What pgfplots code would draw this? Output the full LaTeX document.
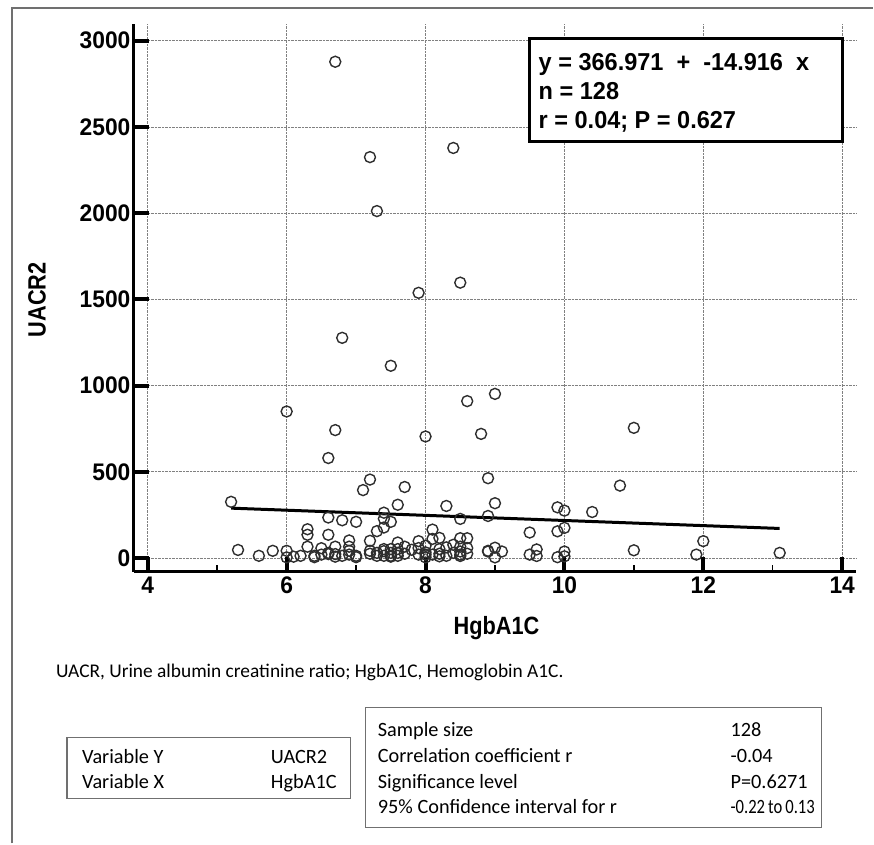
\documentclass[border=0pt]{standalone}
\usepackage{fontspec}
\setmainfont{Liberation Sans}
\newfontfamily\chartfont[FakeStretch=0.95]{Liberation Sans}
\newfontfamily\labelfont[FakeStretch=0.87]{Liberation Sans}
\newfontfamily\boxfont[FakeStretch=0.96]{Liberation Sans}
\newfontfamily\cali{Carlito}
\newfontfamily\calinarrow[FakeStretch=0.82]{Carlito}
\usepackage{pgfplots}
\pgfplotsset{compat=1.18}
\definecolor{markgray}{HTML}{2E2E2E}
\definecolor{framegray}{HTML}{707070}

\begin{document}
\begin{tikzpicture}[x=1pt,y=1pt]
% page size = reference pixels (1px = 1pt)
\path (0,0) rectangle (874,844);
\draw[framegray, line width=1.5pt] (12,0) -- (12,836) -- (874,836);

\begin{axis}[
  at={(134pt,272pt)}, anchor=south west,
  scale only axis, width=722.8pt, height=548pt,
  xmin=3.8, xmax=14.2, ymin=-78, ymax=3097,
  axis x line*=bottom, axis y line*=left,
  axis line style={-, line width=3pt},
  xtick={4,6,...,14}, minor xtick={5,7,...,13},
  ytick={0,500,...,3000},
  tick align=inside, major tick length=15pt, minor tick length=7pt,
  every major tick/.append style={line width=4pt, black},
  every minor tick/.append style={line width=1.5pt, black},
  grid=major, grid style={densely dotted, gray, line width=0.8pt},
  xticklabel={\pgfmathprintnumber[assume math mode=true]{\tick}},
  yticklabel={\pgfmathprintnumber[assume math mode=true, set thousands separator={}]{\tick}},
  typeset ticklabels with strut,
  tick label style={font=\chartfont\bfseries\fontsize{24}{24}\selectfont},
  xticklabel style={yshift=-2pt},
  xlabel={HgbA1C}, ylabel={UACR2},
  label style={font=\labelfont\bfseries\fontsize{25}{25}\selectfont},
  xlabel style={at={(axis description cs:0.502,-0.104)}, anchor=center},
  ylabel style={at={(axis description cs:-0.134,0.496)}, anchor=center},
]
\addplot[only marks, mark=o, mark size=5.5pt, mark options={line width=1.4pt, draw=markgray}] coordinates {
(6.7,2878) (7.2,2325) (8.4,2378) (7.3,2012) (8.5,1597) (7.9,1538) (6.8,1277) (7.5,1115)
(9.0,952) (8.6,910) (6.0,850) (6.7,742) (8.0,705) (8.8,720) (11.0,755) (6.6,580)
(8.9,463) (7.2,455) (10.8,420) (7.7,412) (7.1,394) (5.2,326) (9.0,318) (7.6,309)
(8.3,302) (9.9,294) (10.0,275) (10.4,267) (7.4,263) (8.9,244) (6.6,235) (8.5,227)
(7.4,228) (6.8,219) (7.0,210) (7.5,210) (7.4,177) (10.0,175) (6.3,167) (8.1,165)
(7.3,156) (9.9,155) (9.5,148) (6.3,135) (6.6,135) (8.2,117) (8.5,115) (8.6,115)
(8.1,111) (6.9,102) (7.2,100) (7.9,98) (12.0,98) (7.6,90) (8.4,77) (8.0,71)
(6.3,66) (6.7,66) (6.9,66) (7.7,66) (8.5,66) (8.3,62) (9.0,60) (6.5,57)
(7.9,58) (8.6,58) (7.4,52) (7.5,52) (7.6,52) (7.8,48) (8.2,52) (9.6,50)
(5.3,47) (11.0,45) (5.8,42) (6.0,42) (7.2,42) (8.9,42) (6.9,42) (9.1,38)
(10.0,38) (8.0,33) (8.5,38) (8.6,25) (13.1,30) (6.6,23) (6.7,23) (9.5,20)
(11.9,20) (8.9,38) (5.6,13) (6.2,13) (6.4,13) (6.8,13) (7.0,13) (7.3,13)
(7.4,13) (7.5,13) (7.6,13) (8.2,10) (8.3,13) (9.6,12) (10.0,10) (6.0,4)
(6.1,8) (6.4,5) (7.0,5) (8.0,4) (9.0,4) (9.9,5) (8.5,12) (6.6,30)
(7.5,30) (7.7,25) (8.1,20) (8.4,30) (7.9,20) (7.2,25) (6.5,20) (7.4,40)
(8.0,20) (7.5,8) (6.7,8) (8.5,20) (7.6,30) (8.2,25) (7.3,30) (6.9,20)
};
% regression line y = 366.971 - 14.916 x
\addplot[black, line width=3pt] coordinates {(5.2,289.4) (13.1,171.6)};
\end{axis}

% regression box
\draw[black, line width=3pt, fill=white] (530,702) rectangle (843,805);
\begin{scope}[font=\boxfont\bfseries\fontsize{24.5}{25}\selectfont]
\node[anchor=base west, inner sep=0] at (539,773) {y = 366.971\ \ +\ \ -14.916\ \ x};
\node[anchor=base west, inner sep=0] at (539,744) {n = 128};
\node[anchor=base west, inner sep=0] at (539,715) {r = 0.04; P = 0.627};
\end{scope}

% caption and summary tables
\node[anchor=base west, inner sep=0, font=\cali\fontsize{19.4}{20}\selectfont] at (56,166) {UACR, Urine albumin creatinine ratio; HgbA1C, Hemoglobin A1C.};
\begin{scope}[font=\cali\fontsize{20.3}{21}\selectfont]
\draw[framegray, line width=1.2pt] (67,45) rectangle (351,106);
\node[anchor=base west, inner sep=0] at (82,80) {Variable Y};
\node[anchor=base west, inner sep=0] at (271,80) {UACR2};
\node[anchor=base west, inner sep=0] at (82,55) {Variable X};
\node[anchor=base west, inner sep=0] at (271,55) {HgbA1C};
\draw[framegray, line width=1.2pt] (366,16) rectangle (822,136);
\node[anchor=base west, inner sep=0] at (378,107) {Sample size};
\node[anchor=base west, inner sep=0] at (731,107) {128};
\node[anchor=base west, inner sep=0] at (378,81) {Correlation coefficient r};
\node[anchor=base west, inner sep=0] at (731,81) {-0.04};
\node[anchor=base west, inner sep=0] at (378,55) {Significance level};
\node[anchor=base west, inner sep=0] at (731,55) {P=0.6271};
\node[anchor=base west, inner sep=0] at (378,30) {95\% Confidence interval for r};
\node[anchor=base west, inner sep=0, font=\calinarrow\fontsize{20.3}{21}\selectfont] at (731,30) {-0.22\hspace{3pt}to\hspace{3pt}0.13};
\end{scope}
\end{tikzpicture}
\end{document}
